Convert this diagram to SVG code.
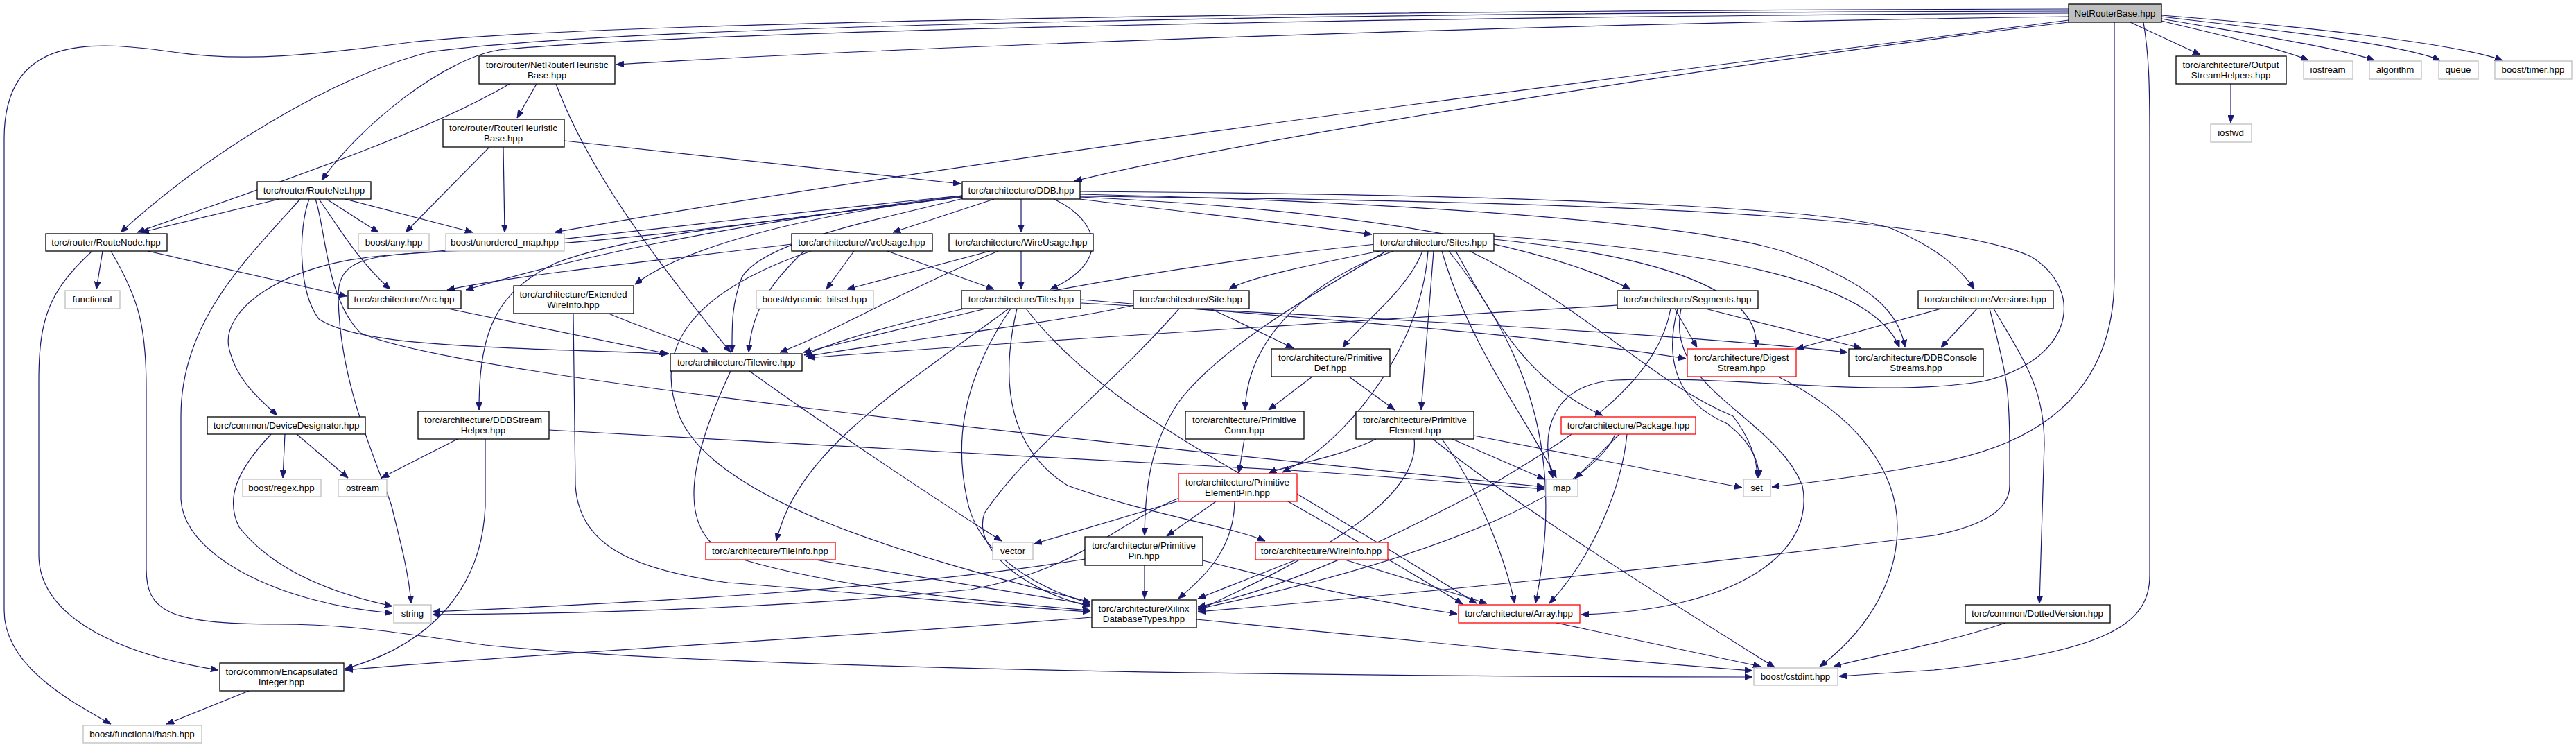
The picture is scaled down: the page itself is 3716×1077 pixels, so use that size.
<svg xmlns="http://www.w3.org/2000/svg" width="3716" height="1077" viewBox="0 0 3716 1077">
<style>
.bg{fill:#fff}
.n rect{fill:#fff;stroke:#000;stroke-width:1.3}
.g rect{fill:#fff;stroke:#bfbfbf;stroke-width:1.3}
.r rect{fill:#fff;stroke:#ff0000;stroke-width:1.3}
.root rect{fill:#bfbfbf;stroke:#000;stroke-width:1.3}
text{font-family:"Liberation Sans",Arial,Helvetica,sans-serif;font-size:13.3px;fill:#000;text-anchor:middle}
#edges path{fill:none;stroke:#191970;stroke-width:1.2;marker-end:url(#a)}
</style>
<defs>
<marker id="a" markerWidth="12" markerHeight="9" refX="11" refY="4.5" orient="auto" markerUnits="userSpaceOnUse"><path d="M0,0 L11,4.5 L0,9 z" fill="#191970" stroke="#191970" stroke-width="0.8"/></marker>
</defs>
<rect class="bg" x="0" y="0" width="3716" height="1077"/>
<g id="edges">
<path d="M2984,24 C2200,34 1300,68 889,93"/>
<path d="M2984,16 C2000,18 900,35 620,75 C480,110 300,220 174,335"/>
<path d="M2984,19 C2000,24 1000,45 720,72 C640,85 520,180 464,260"/>
<path d="M2984,13 C2000,15 900,30 600,60 C450,80 350,90 250,75 C130,58 6,50 6,200 L6,880 C6,960 100,1010 160,1044"/>
<path d="M2984,29 C2600,80 1500,210 800,335"/>
<path d="M2984,32 C2500,90 1800,200 1550,261"/>
<path d="M3073,32 L3174,79"/>
<path d="M3118,30 C3200,50 3290,70 3330,87"/>
<path d="M3118,27 C3250,50 3380,70 3425,87"/>
<path d="M3118,24 C3300,45 3470,65 3520,87"/>
<path d="M3118,22 C3350,40 3550,65 3610,87"/>
<path d="M3050,32 L3050,400 C3050,560 2950,640 2790,668 C2700,685 2620,695 2556,702"/>
<path d="M3092,32 C3100,80 3101,120 3101,200 L3101,830 C3101,900 3040,940 2790,966 L2653,975"/>
<path d="M735,121 C600,200 350,280 198,335"/>
<path d="M774,121 L746,170"/>
<path d="M802,121 C850,250 950,380 1054,508"/>
<path d="M706,212 L585,335"/>
<path d="M726,212 L728,335"/>
<path d="M814,203 L1386,265"/>
<path d="M403,287 L204,335"/>
<path d="M471,287 L546,335"/>
<path d="M498,287 L682,335"/>
<path d="M460,287 C490,330 520,380 563,417"/>
<path d="M433,287 C360,370 261,460 261,600 L261,720 C265,800 400,870 566,884"/>
<path d="M446,287 C430,330 430,420 460,460 C520,500 700,500 965,510"/>
<path d="M455,287 C470,330 470,430 520,480 C650,540 1500,630 2228,702"/>
<path d="M148,362 L139,417"/>
<path d="M213,362 L500,427"/>
<path d="M133,362 C70,420 56,460 56,550 L56,800 C56,880 150,940 315,966"/>
<path d="M160,362 C200,430 211,470 211,560 L211,820 C211,880 240,900 400,900 C500,900 560,910 700,930 C1000,960 1700,975 2528,976"/>
<path d="M1434,287 L1288,335"/>
<path d="M1473,287 L1473,335"/>
<path d="M1520,287 C1590,320 1600,380 1515,417"/>
<path d="M1558,287 C1700,305 1850,320 1979,338"/>
<path d="M1558,284 C1900,300 2200,340 2352,417"/>
<path d="M1558,276 C2200,280 2650,300 2730,330 C2800,360 2830,390 2848,417"/>
<path d="M1558,280 C2000,290 2450,320 2580,365 C2700,410 2740,450 2748,501"/>
<path d="M1558,283 C2300,290 2800,310 2930,370 C3010,420 2990,520 2860,550 C2700,575 2500,540 2330,548 C2240,555 2220,620 2240,689"/>
<path d="M1388,282 C1000,330 800,380 672,418"/>
<path d="M1388,284 C1150,310 980,360 916,410"/>
<path d="M1388,282 C1100,310 800,350 560,368 C400,380 320,450 330,500 C340,550 380,580 400,599"/>
<path d="M1388,284 C1100,320 900,340 800,380 C720,420 691,470 691,591"/>
<path d="M1390,286 C1250,320 1100,350 1070,400 C1055,440 1056,470 1056,508"/>
<path d="M1388,283 C1100,320 900,350 600,365 C520,370 486,380 488,430 C490,560 550,680 565,730 C580,790 590,830 593,870"/>
<path d="M1232,362 L1192,417"/>
<path d="M1280,362 L1434,417"/>
<path d="M1160,362 C1120,400 1085,440 1080,508"/>
<path d="M1142,352 C1000,370 750,395 645,418"/>
<path d="M1170,362 C1000,420 940,500 980,600 C1030,720 1300,800 1573,868"/>
<path d="M1428,362 L1222,417"/>
<path d="M1473,362 L1473,417"/>
<path d="M1440,362 C1300,420 1200,480 1125,508"/>
<path d="M1990,362 C1900,380 1800,400 1773,417"/>
<path d="M2052,362 C2030,420 1960,470 1937,501"/>
<path d="M2010,362 C1900,400 1800,480 1796,591"/>
<path d="M2068,362 L2050,591"/>
<path d="M2060,362 C2050,500 1950,620 1880,665 L1850,681"/>
<path d="M2100,362 C2150,450 2200,550 2312,599"/>
<path d="M2155,345 C2400,370 2540,420 2533,501"/>
<path d="M2155,340 C2450,360 2700,400 2740,501"/>
<path d="M2080,362 C2120,500 2200,600 2245,689"/>
<path d="M2120,362 C2300,450 2380,550 2500,600 C2530,640 2535,670 2535,689"/>
<path d="M2090,362 C2200,500 2260,650 2215,870"/>
<path d="M2000,362 C1900,420 1760,500 1700,580 C1660,640 1652,700 1651,772"/>
<path d="M1985,352 C1700,380 1300,450 1160,512"/>
<path d="M3218,121 L3218,177"/>
<path d="M646,445 L963,510"/>
<path d="M878,452 C920,470 980,490 1022,508"/>
<path d="M827,452 L830,700 C835,780 900,820 1050,840 C1300,860 1450,875 1573,882"/>
<path d="M411,626 L408,689"/>
<path d="M428,626 L502,689"/>
<path d="M391,626 C340,680 325,720 345,760 C400,830 500,860 566,874"/>
<path d="M660,633 L550,689"/>
<path d="M792,620 C1000,630 1500,660 1860,678 C2050,690 2150,700 2228,705"/>
<path d="M700,633 L700,730 C695,850 620,930 498,964"/>
<path d="M1422,445 L1159,508"/>
<path d="M1455,445 C1300,560 1150,650 1120,780"/>
<path d="M1467,445 C1440,560 1460,650 1540,700 C1650,740 1780,760 1825,780"/>
<path d="M1559,432 C1900,460 2200,480 2432,517"/>
<path d="M1559,437 C2000,460 2400,480 2665,508"/>
<path d="M1458,445 C1380,560 1380,650 1395,720 C1410,800 1500,850 1573,870"/>
<path d="M1480,445 C1600,600 1800,680 2110,871"/>
<path d="M1636,440 C1500,470 1300,490 1162,514"/>
<path d="M1746,445 C1800,470 1840,490 1866,502"/>
<path d="M1701,445 C1600,560 1480,650 1420,740 C1400,800 1500,860 1573,874"/>
<path d="M1081,535 C1200,620 1350,720 1445,780"/>
<path d="M1054,535 C1000,650 970,760 1050,800 C1200,850 1450,870 1573,880"/>
<path d="M1795,633 L1787,682"/>
<path d="M1893,543 L1830,591"/>
<path d="M1946,543 L2012,591"/>
<path d="M1985,633 C1930,660 1860,670 1830,682"/>
<path d="M2095,633 L2228,691"/>
<path d="M2126,628 L2513,703"/>
<path d="M2040,633 C2050,720 1900,800 1728,880"/>
<path d="M2080,633 C2130,700 2170,800 2185,870"/>
<path d="M2067,633 C2150,700 2300,800 2560,962"/>
<path d="M1701,722 L1492,784"/>
<path d="M1754,723 L1683,773"/>
<path d="M1781,723 C1780,790 1740,830 1700,863"/>
<path d="M1701,718 C1600,760 1560,820 1400,850 C1100,880 800,885 624,886"/>
<path d="M1871,712 C1950,760 2050,820 2130,870"/>
<path d="M1651,815 L1651,863"/>
<path d="M1565,806 C1300,850 900,870 624,882"/>
<path d="M1735,808 C1900,850 2000,870 2102,885"/>
<path d="M2333,440 C2000,460 1500,490 1165,516"/>
<path d="M2416,445 L2448,501"/>
<path d="M2460,445 L2685,502"/>
<path d="M2420,445 C2400,520 2420,580 2490,610 C2530,640 2538,670 2537,689"/>
<path d="M2425,445 C2400,560 2560,600 2600,700 C2620,800 2500,880 2281,886"/>
<path d="M2410,445 C2390,560 2250,640 2150,700 C2000,780 1850,850 1728,875"/>
<path d="M2800,445 L2591,503"/>
<path d="M2852,445 L2800,501"/>
<path d="M2876,445 C2920,520 2949,560 2949,640 L2942,870"/>
<path d="M2870,445 C2895,540 2899,560 2899,650 L2899,700 C2899,740 2850,760 2790,772 C2400,820 2000,860 1728,882"/>
<path d="M2336,626 L2272,690"/>
<path d="M2330,626 C2300,700 2100,800 1728,878"/>
<path d="M2347,626 C2340,700 2300,800 2235,870"/>
<path d="M1870,807 L1728,863"/>
<path d="M1940,807 L2145,870"/>
<path d="M1176,807 L1573,872"/>
<path d="M2565,543 C2680,600 2737,680 2737,760 C2737,850 2680,920 2625,961"/>
<path d="M1575,890 C1200,920 800,940 498,966"/>
<path d="M1726,893 C2000,920 2300,950 2528,967"/>
<path d="M2245,898 L2540,961"/>
<path d="M2893,898 C2800,930 2700,945 2645,961"/>
<path d="M359,996 L240,1044"/>
</g>
<g id="NetRouterBase" class="root"><rect x="2984" y="6" width="134" height="26"/><text x="3051" y="24">NetRouterBase.hpp</text></g>
<g id="NetRouterHeuristicBase" class="n"><rect x="691" y="81" width="196" height="40"/><text x="789" y="97.5">torc/router/NetRouterHeuristic</text><text x="789" y="112.5">Base.hpp</text></g>
<g id="RouterHeuristicBase" class="n"><rect x="639" y="172" width="175" height="40"/><text x="726" y="188.5">torc/router/RouterHeuristic</text><text x="726" y="203.5">Base.hpp</text></g>
<g id="RouteNet" class="n"><rect x="371" y="262" width="164" height="25"/><text x="453" y="279">torc/router/RouteNet.hpp</text></g>
<g id="RouteNode" class="n"><rect x="66" y="337" width="175" height="25"/><text x="153" y="354">torc/router/RouteNode.hpp</text></g>
<g id="boost_any" class="g"><rect x="517" y="337" width="102" height="25"/><text x="568" y="354">boost/any.hpp</text></g>
<g id="boost_unordered_map" class="g"><rect x="643" y="337" width="171" height="25"/><text x="728" y="354">boost/unordered_map.hpp</text></g>
<g id="DDB" class="n"><rect x="1388" y="262" width="170" height="25"/><text x="1473" y="279">torc/architecture/DDB.hpp</text></g>
<g id="ArcUsage" class="n"><rect x="1142" y="337" width="203" height="25"/><text x="1243" y="354">torc/architecture/ArcUsage.hpp</text></g>
<g id="WireUsage" class="n"><rect x="1369" y="337" width="208" height="25"/><text x="1473" y="354">torc/architecture/WireUsage.hpp</text></g>
<g id="Sites" class="n"><rect x="1981" y="337" width="174" height="25"/><text x="2068" y="354">torc/architecture/Sites.hpp</text></g>
<g id="OutputStreamHelpers" class="n"><rect x="3139" y="81" width="159" height="40"/><text x="3218" y="97.5">torc/architecture/Output</text><text x="3218" y="112.5">StreamHelpers.hpp</text></g>
<g id="iostream" class="g"><rect x="3323" y="88" width="71" height="26"/><text x="3358" y="105">iostream</text></g>
<g id="algorithm" class="g"><rect x="3418" y="88" width="75" height="26"/><text x="3455" y="105">algorithm</text></g>
<g id="queue" class="g"><rect x="3518" y="88" width="57" height="26"/><text x="3546" y="105">queue</text></g>
<g id="boost_timer" class="g"><rect x="3599" y="88" width="111" height="26"/><text x="3654" y="105">boost/timer.hpp</text></g>
<g id="iosfwd" class="g"><rect x="3189" y="179" width="59" height="26"/><text x="3218" y="196">iosfwd</text></g>
<g id="functional" class="g"><rect x="94" y="419" width="79" height="26"/><text x="133" y="436">functional</text></g>
<g id="Arc" class="n"><rect x="502" y="419" width="163" height="26"/><text x="583" y="436">torc/architecture/Arc.hpp</text></g>
<g id="ExtendedWireInfo" class="n"><rect x="741" y="412" width="173" height="40"/><text x="827" y="428.5">torc/architecture/Extended</text><text x="827" y="443.5">WireInfo.hpp</text></g>
<g id="DeviceDesignator" class="n"><rect x="299" y="601" width="228" height="25"/><text x="413" y="618">torc/common/DeviceDesignator.hpp</text></g>
<g id="DDBStreamHelper" class="n"><rect x="603" y="593" width="189" height="40"/><text x="697" y="609.5">torc/architecture/DDBStream</text><text x="697" y="624.5">Helper.hpp</text></g>
<g id="boost_regex" class="g"><rect x="350" y="691" width="113" height="25"/><text x="406" y="708">boost/regex.hpp</text></g>
<g id="ostream" class="g"><rect x="488" y="691" width="70" height="25"/><text x="523" y="708">ostream</text></g>
<g id="boost_dynamic_bitset" class="g"><rect x="1091" y="419" width="169" height="26"/><text x="1175" y="436">boost/dynamic_bitset.hpp</text></g>
<g id="Tiles" class="n"><rect x="1387" y="419" width="172" height="26"/><text x="1473" y="436">torc/architecture/Tiles.hpp</text></g>
<g id="Site" class="n"><rect x="1635" y="419" width="167" height="26"/><text x="1718" y="436">torc/architecture/Site.hpp</text></g>
<g id="Tilewire" class="n"><rect x="967" y="510" width="190" height="25"/><text x="1062" y="527">torc/architecture/Tilewire.hpp</text></g>
<g id="PrimitiveConn" class="n"><rect x="1710" y="593" width="171" height="40"/><text x="1795" y="609.5">torc/architecture/Primitive</text><text x="1795" y="624.5">Conn.hpp</text></g>
<g id="PrimitiveElementPin" class="r"><rect x="1700" y="683" width="171" height="40"/><text x="1785" y="699.5">torc/architecture/Primitive</text><text x="1785" y="714.5">ElementPin.hpp</text></g>
<g id="PrimitiveDef" class="n"><rect x="1834" y="503" width="171" height="40"/><text x="1919" y="519.5">torc/architecture/Primitive</text><text x="1919" y="534.5">Def.hpp</text></g>
<g id="Segments" class="n"><rect x="2333" y="419" width="203" height="26"/><text x="2434" y="436">torc/architecture/Segments.hpp</text></g>
<g id="Versions" class="n"><rect x="2767" y="419" width="195" height="26"/><text x="2864" y="436">torc/architecture/Versions.hpp</text></g>
<g id="DigestStream" class="r"><rect x="2434" y="503" width="157" height="40"/><text x="2512" y="519.5">torc/architecture/Digest</text><text x="2512" y="534.5">Stream.hpp</text></g>
<g id="DDBConsoleStreams" class="n"><rect x="2667" y="503" width="194" height="40"/><text x="2764" y="519.5">torc/architecture/DDBConsole</text><text x="2764" y="534.5">Streams.hpp</text></g>
<g id="PrimitiveElement" class="n"><rect x="1956" y="593" width="170" height="40"/><text x="2041" y="609.5">torc/architecture/Primitive</text><text x="2041" y="624.5">Element.hpp</text></g>
<g id="Package" class="r"><rect x="2252" y="601" width="194" height="25"/><text x="2349" y="618">torc/architecture/Package.hpp</text></g>
<g id="map" class="g"><rect x="2230" y="691" width="46" height="25"/><text x="2253" y="708">map</text></g>
<g id="set" class="g"><rect x="2515" y="691" width="39" height="25"/><text x="2534" y="708">set</text></g>
<g id="TileInfo" class="r"><rect x="1018" y="782" width="187" height="25"/><text x="1111" y="799">torc/architecture/TileInfo.hpp</text></g>
<g id="vector" class="g"><rect x="1432" y="782" width="58" height="25"/><text x="1461" y="799">vector</text></g>
<g id="PrimitivePin" class="n"><rect x="1565" y="774" width="170" height="41"/><text x="1650" y="790.5">torc/architecture/Primitive</text><text x="1650" y="805.5">Pin.hpp</text></g>
<g id="WireInfo" class="r"><rect x="1811" y="782" width="191" height="25"/><text x="1906" y="799">torc/architecture/WireInfo.hpp</text></g>
<g id="XilinxDatabaseTypes" class="n"><rect x="1575" y="865" width="151" height="40"/><text x="1650" y="881.5">torc/architecture/Xilinx</text><text x="1650" y="896.5">DatabaseTypes.hpp</text></g>
<g id="string" class="g"><rect x="568" y="872" width="54" height="26"/><text x="595" y="889">string</text></g>
<g id="EncapsulatedInteger" class="n"><rect x="317" y="956" width="179" height="40"/><text x="406" y="972.5">torc/common/Encapsulated</text><text x="406" y="987.5">Integer.hpp</text></g>
<g id="boost_functional_hash" class="g"><rect x="120" y="1046" width="171" height="25"/><text x="205" y="1063">boost/functional/hash.hpp</text></g>
<g id="Array" class="r"><rect x="2104" y="872" width="175" height="26"/><text x="2191" y="889">torc/architecture/Array.hpp</text></g>
<g id="boost_cstdint" class="g"><rect x="2530" y="963" width="121" height="25"/><text x="2590" y="980">boost/cstdint.hpp</text></g>
<g id="DottedVersion" class="n"><rect x="2835" y="872" width="209" height="26"/><text x="2939" y="889">torc/common/DottedVersion.hpp</text></g>
</svg>
